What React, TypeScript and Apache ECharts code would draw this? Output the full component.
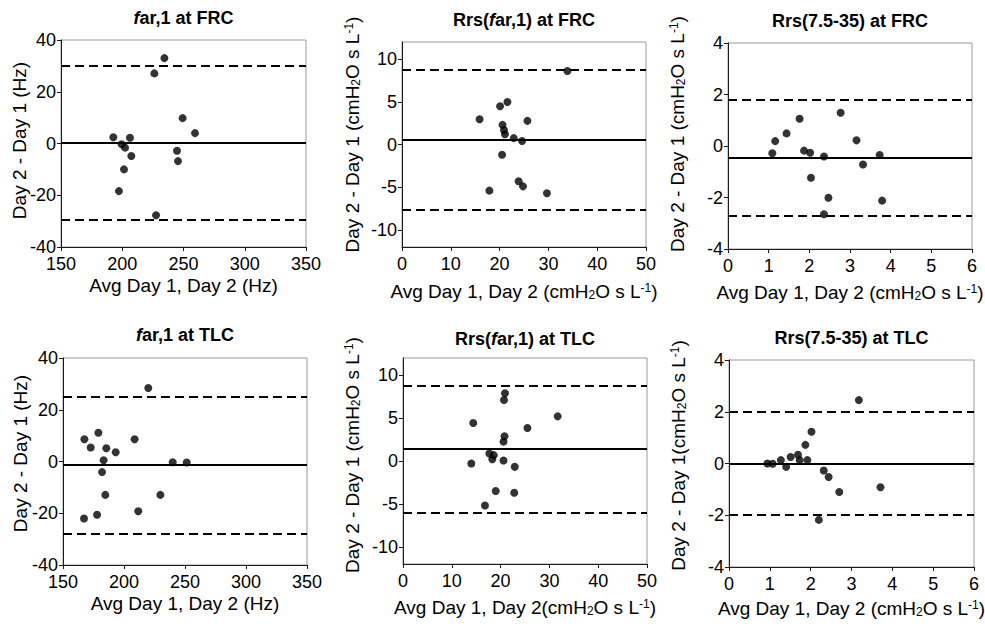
import React, { useEffect, useRef } from 'react';
import * as echarts from 'echarts';

// ---------- Data ----------
// Panel 1: far,1 at FRC
const p1X = [192.7, 199.5, 202.3, 206.3, 207.4, 201.4, 197.3, 226.2, 234.4, 227.6, 249.3, 259.4, 244.7, 245.5];
const p1Y = [2.4, -0.3, -1.6, 2.2, -4.8, -10.0, -18.4, 27.1, 33.0, -27.7, 9.8, 4.0, -2.8, -6.8];
const p1Lim = [0.2, 30.1, -29.5]; // mean, upper, lower

// Panel 2: Rrs(far,1) at FRC
const p2X = [15.9, 17.9, 20.1, 21.6, 20.6, 20.9, 21.1, 20.5, 22.9, 24.6, 23.9, 24.8, 25.7, 29.7, 33.9];
const p2Y = [2.96, -5.4, 4.47, 4.97, 2.3, 1.7, 1.2, -1.2, 0.75, 0.4, -4.3, -4.9, 2.77, -5.7, 8.6];
const p2Lim = [0.6, 8.8, -7.68];

// Panel 3: Rrs(7.5-35) at FRC
const p3X = [1.09, 1.16, 1.44, 1.76, 1.87, 2.02, 2.04, 2.36, 2.47, 2.36, 2.77, 3.16, 3.32, 3.73, 3.79];
const p3Y = [-0.28, 0.19, 0.49, 1.06, -0.18, -0.26, -1.23, -0.41, -2.01, -2.65, 1.29, 0.22, -0.72, -0.35, -2.12];
const p3Lim = [-0.45, 1.78, -2.7];

// Panel 4: far,1 at TLC
const p4X = [167.5, 167.2, 172.7, 179.0, 177.9, 185.5, 183.3, 182.0, 184.7, 193.2, 208.7, 211.7, 219.9, 229.8, 239.9, 251.4];
const p4Y = [8.6, -22.0, 5.4, 11.1, -20.6, 5.1, 0.5, -4.1, -12.9, 3.6, 8.6, -19.2, 28.4, -12.9, -0.3, -0.4];
const p4Lim = [-1.3, 25.2, -27.8];

// Panel 5: Rrs(far,1) at TLC
const p5X = [14.4, 14.0, 16.8, 17.7, 18.3, 18.6, 19.0, 20.7, 20.9, 20.8, 20.6, 20.6, 22.9, 22.8, 25.5, 31.7];
const p5Y = [4.43, -0.29, -5.18, 0.87, 0.21, 0.68, -3.5, 7.1, 7.9, 2.88, 2.26, 0.06, -0.68, -3.7, 3.85, 5.2];
const p5Lim = [1.41, 8.76, -5.98];

// Panel 6: Rrs(7.5-35) at TLC
const p6X = [0.94, 1.07, 1.27, 1.40, 1.51, 1.69, 1.73, 1.87, 1.92, 2.02, 2.32, 2.44, 2.20, 2.70, 3.18, 3.71];
const p6Y = [0.0, -0.01, 0.13, -0.13, 0.25, 0.34, 0.13, 0.72, 0.13, 1.23, -0.27, -0.52, -2.18, -1.1, 2.45, -0.92];
const p6Lim = [0.0, 1.99, -1.97];

// Tick labels for the ±12 axes
const rrsFarYTicks = [-10, -5, 0, 5, 10];

// Titles and axis names
const titles = [
  '{i|f}ar,1 at FRC',
  'Rrs({i|f}ar,1) at FRC',
  'Rrs(7.5-35) at FRC',
  '{i|f}ar,1 at TLC',
  'Rrs({i|f}ar,1) at TLC',
  'Rrs(7.5-35) at TLC',
];
const xNames = [
  'Avg Day 1, Day 2 (Hz)',
  'Avg Day 1, Day 2 (cmH{sub|2}O s L{sup|-1})',
  'Avg Day 1, Day 2 (cmH{sub|2}O s L{sup|-1})',
  'Avg Day 1, Day 2 (Hz)',
  'Avg Day 1, Day 2(cmH{sub|2}O s L{sup|-1})',
  'Avg Day 1, Day 2 (cmH{sub|2}O s L{sup|-1})',
];
const yNames = [
  'Day 2 - Day 1 (Hz)',
  'Day 2 - Day 1 (cmH{sub|2}O s L{sup|-1})',
  'Day 2 - Day 1 (cmH{sub|2}O s L{sup|-1})',
  'Day 2 - Day 1 (Hz)',
  'Day 2 - Day 1 (cmH{sub|2}O s L{sup|-1})',
  'Day 2 - Day 1(cmH{sub|2}O s L{sup|-1})',
];

const FONT = '"Liberation Sans", Arial, Helvetica, sans-serif';

type Panel = {
  xs: number[]; ys: number[]; lim: number[];
  grid: { left: number; top: number; width: number; height: number };
  x: { min: number; max: number; interval: number };
  y: { min: number; max: number; interval?: number; ticks?: number[] };
  titleY: number; xGap: number; yGap: number; yShift: number;
};

const panels: Panel[] = [
  { xs: p1X, ys: p1Y, lim: p1Lim, grid: { left: 61, top: 40, width: 245, height: 207 },
    x: { min: 150, max: 350, interval: 50 }, y: { min: -40, max: 40, interval: 20 }, titleY: 18, xGap: 29, yGap: 32, yShift: 3 },
  { xs: p2X, ys: p2Y, lim: p2Lim, grid: { left: 402, top: 42, width: 244, height: 205 },
    x: { min: 0, max: 50, interval: 10 }, y: { min: -12, max: 12, ticks: rrsFarYTicks }, titleY: 20, xGap: 35, yGap: 40, yShift: 10 },
  { xs: p3X, ys: p3Y, lim: p3Lim, grid: { left: 728, top: 43, width: 244, height: 206 },
    x: { min: 0, max: 6, interval: 1 }, y: { min: -4, max: 4, interval: 2 }, titleY: 21, xGap: 34, yGap: 41, yShift: 12 },
  { xs: p4X, ys: p4Y, lim: p4Lim, grid: { left: 63, top: 358, width: 244, height: 207 },
    x: { min: 150, max: 350, interval: 50 }, y: { min: -40, max: 40, interval: 20 }, titleY: 335, xGap: 29, yGap: 33, yShift: 8 },
  { xs: p5X, ys: p5Y, lim: p5Lim, grid: { left: 403, top: 358, width: 244, height: 206 },
    x: { min: 0, max: 50, interval: 10 }, y: { min: -12, max: 12, ticks: rrsFarYTicks }, titleY: 339, xGap: 34, yGap: 41, yShift: 6 },
  { xs: p6X, ys: p6Y, lim: p6Lim, grid: { left: 729, top: 360, width: 245, height: 207 },
    x: { min: 0, max: 6, interval: 1 }, y: { min: -4, max: 4, interval: 2 }, titleY: 338, xGap: 32, yGap: 41, yShift: 8 },
];

const nameRich = {
  sub: { fontSize: 12, fontFamily: FONT, color: '#000', verticalAlign: 'bottom' },
  sup: { fontSize: 12, fontFamily: FONT, color: '#000', verticalAlign: 'top' },
};

function buildOption() {
  const axisLine = { show: true, onZero: false, lineStyle: { color: '#1a1a1a', width: 1 } };
  const axisTick = { show: true, inside: false, length: 4, lineStyle: { color: '#1a1a1a', width: 1 } };
  const labelStyle = { fontSize: 18, color: '#000', fontFamily: FONT };
  const nameStyle = { fontSize: 19, color: '#000', fontFamily: FONT, rich: nameRich };

  return {
    animation: false,
    backgroundColor: '#fff',
    grid: panels.map((p) => ({
      ...p.grid,
      show: true,
      borderColor: '#9a9a9a',
      borderWidth: 1,
      backgroundColor: 'transparent',
      containLabel: false,
      outerBoundsMode: 'none',
    })),
    xAxis: panels.map((p, i) => ({
      gridIndex: i,
      type: 'value',
      min: p.x.min,
      max: p.x.max,
      interval: p.x.interval,
      name: xNames[i],
      nameLocation: 'middle',
      nameGap: p.xGap,
      nameMoveOverlap: false,
      nameTextStyle: nameStyle,
      axisLine,
      axisTick,
      axisLabel: { ...labelStyle, margin: 8 },
      splitLine: { show: false },
    })),
    yAxis: panels.map((p, i) => ({
      gridIndex: i,
      type: 'value',
      min: p.y.min,
      max: p.y.max,
      ...(p.y.interval ? { interval: p.y.interval } : {}),
      name: yNames[i],
      nameLocation: 'middle',
      nameGap: p.yGap,
      nameMoveOverlap: false,
      nameTextStyle: { ...nameStyle, padding: [0, 0, 0, p.yShift * 2] },
      axisLine,
      axisTick: p.y.ticks ? { ...axisTick, customValues: p.y.ticks } : axisTick,
      axisLabel: p.y.ticks ? { ...labelStyle, margin: 5, customValues: p.y.ticks } : { ...labelStyle, margin: 5 },
      splitLine: { show: false },
    })),
    graphic: panels.map((p, i) => ({
      type: 'text',
      x: p.grid.left + p.grid.width / 2,
      y: p.titleY,
      style: {
        text: titles[i],
        fontSize: 18,
        fontWeight: 'bold',
        fontFamily: FONT,
        fill: '#000',
        align: 'center',
        verticalAlign: 'middle',
        rich: {
          i: { fontSize: 18, fontWeight: 'bold', fontStyle: 'italic', fontFamily: FONT, fill: '#000' },
        },
      },
    })),
    series: panels.map((p, i) => ({
      type: 'scatter',
      xAxisIndex: i,
      yAxisIndex: i,
      symbol: 'circle',
      symbolSize: 8,
      itemStyle: { color: '#000' },
      z: 3,
      data: p.xs.map((x, k) => [x, p.ys[k]]),
      markLine: {
        silent: true,
        symbol: ['none', 'none'],
        label: { show: false },
        z: 2,
        data: [
          { yAxis: p.lim[0], lineStyle: { type: 'solid', width: 2, color: '#000' } },
          { yAxis: p.lim[1], lineStyle: { type: [9, 5], width: 2, color: '#000' } },
          { yAxis: p.lim[2], lineStyle: { type: [9, 5], width: 2, color: '#000' } },
        ],
      },
    })),
  };
}

export default function App() {
  const ref = useRef<HTMLDivElement>(null);
  useEffect(() => {
    document.body.style.margin = '0';
    if (!ref.current) return;
    const chart = echarts.init(ref.current, undefined, { renderer: 'svg' });
    chart.setOption(buildOption() as any);
    return () => chart.dispose();
  }, []);
  return <div ref={ref} style={{ width: 985, height: 626 }} />;
}
